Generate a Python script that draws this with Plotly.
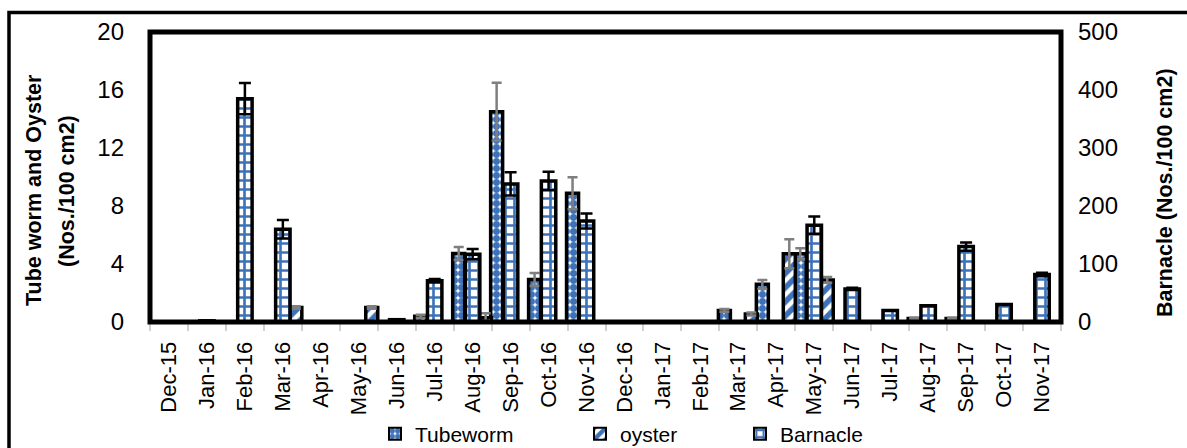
import plotly.graph_objects as go

months = ["Dec-15", "Jan-16", "Feb-16", "Mar-16", "Apr-16", "May-16", "Jun-16", "Jul-16",
          "Aug-16", "Sep-16", "Oct-16", "Nov-16", "Dec-16", "Jan-17", "Feb-17", "Mar-17",
          "Apr-17", "May-17", "Jun-17", "Jul-17", "Aug-17", "Sep-17", "Oct-17", "Nov-17"]

tubeworm = [0, 0, 0, 0, 0, 0, 0, 0.4, 4.72, 14.5, 2.93, 8.88, 0, 0, 0, 0.8, 2.6, 4.7, 0, 0, 0.25, 0.25, 0, 0]
tubeworm_err = [0, 0, 0, 0, 0, 0, 0, 0.1, 0.45, 2.0, 0.45, 1.1, 0, 0, 0, 0.1, 0.3, 0.38, 0, 0, 0.05, 0.05, 0, 0]

oyster = [0, 0, 0, 1.0, 0, 1.0, 0, 0, 0.3, 0, 0, 0, 0, 0, 0, 0.55, 4.7, 2.9, 0, 0, 0, 0, 0, 0]
oyster_err = [0, 0, 0, 0.08, 0, 0.08, 0, 0, 0.3, 0, 0, 0, 0, 0, 0, 0.1, 1.0, 0.2, 0, 0, 0, 0, 0, 0]

barnacle = [0, 2, 385, 160, 0, 0, 4, 71, 117, 238, 243, 174, 0, 0, 0, 0, 0, 167, 57, 20, 28, 130, 30, 82]
barnacle_err = [0, 0, 27, 16, 0, 0, 0, 3, 9, 20, 16, 13, 0, 0, 0, 0, 0, 15, 2, 0, 0, 7, 0, 3]

left_ticks = [0, 4, 8, 12, 16, 20]
right_ticks = [0, 100, 200, 300, 400, 500]

BLUE = "#3E72B8"
GREY = "#7f7f7f"
ARIAL = "Liberation Sans, Arial, sans-serif"
NARROW = "Liberation Sans Narrow, Arial Narrow, Liberation Sans, sans-serif"

fig = go.Figure()

fig.add_trace(go.Bar(
    name="Tubeworm", x=months, y=tubeworm, yaxis="y", legend="legend",
    offset=-0.526, width=0.316,
    marker=dict(color=BLUE, line=dict(color="black", width=3.5),
                pattern=dict(shape=".", fgcolor=BLUE, bgcolor="white", fgopacity=1,
                             size=7, solidity=0.75)),
    error_y=dict(type="data", array=tubeworm_err, visible=True, color=GREY, thickness=2.5, width=5),
))
fig.add_trace(go.Bar(
    name="oyster", x=months, y=oyster, yaxis="y", legend="legend2",
    offset=0.184, width=0.316,
    marker=dict(color=BLUE, line=dict(color="black", width=3.5),
                pattern=dict(shape="/", fgcolor=BLUE, bgcolor="white", fgopacity=1,
                             size=10, solidity=0.55)),
    error_y=dict(type="data", array=oyster_err, visible=True, color=GREY, thickness=2.5, width=5),
))
fig.add_trace(go.Bar(
    name="Barnacle", x=months, y=barnacle, yaxis="y2", legend="legend3",
    offset=-0.19, width=0.38,
    marker=dict(color=BLUE, line=dict(color="black", width=3.5),
                pattern=dict(shape="+", fgcolor=BLUE, bgcolor="white", fgopacity=1,
                             size=9, solidity=0.5)),
    error_y=dict(type="data", array=barnacle_err, visible=True, color="black", thickness=2.5, width=6),
))

W, H = 1187, 448
L, R, T, B = 150, 126, 32, 126
pw, ph = W - L - R, H - T - B


def px_x(p):
    return (p - L) / pw


def px_y(p):
    return (H - B - p) / ph


legend_common = dict(orientation="h", font=dict(family=ARIAL, size=21, color="black"),
                     bgcolor="rgba(0,0,0,0)", yanchor="middle", xanchor="left",
                     xref="container", yref="container", itemsizing="constant")
leg_y = (H - 434) / H

fig.update_layout(
    width=W, height=H,
    margin=dict(l=L, r=R, t=T, b=B, autoexpand=False),
    paper_bgcolor="white", plot_bgcolor="white",
    barmode="overlay",
    showlegend=True,
    legend=dict(x=(395 - 20) / W, y=leg_y, **legend_common),
    legend2=dict(x=(600 - 20) / W, y=leg_y, **legend_common),
    legend3=dict(x=(760 - 20) / W, y=leg_y, **legend_common),
    xaxis=dict(type="category", range=[-0.5, 23.5], tickangle=-90,
               tickfont=dict(family=ARIAL, size=22, color="black"),
               showline=True, linecolor="#bfbfbf", linewidth=2,
               ticks="outside", tickson="boundaries", ticklen=7, tickcolor="#d0d0d0", tickwidth=2,
               showgrid=False, zeroline=False, ticklabelstandoff=9, automargin=False),
    yaxis=dict(range=[0, 20], tickvals=left_ticks, showgrid=False, zeroline=False, showline=False,
               ticks="", tickfont=dict(family=NARROW, size=24, color="black"), ticklabelstandoff=25,
               automargin=False),
    yaxis2=dict(range=[0, 500], tickvals=right_ticks, overlaying="y", side="right",
                showgrid=False, zeroline=False, showline=False, ticks="",
                tickfont=dict(family=NARROW, size=24, color="black"), ticklabelstandoff=16,
                automargin=False),
    shapes=[
        dict(type="rect", xref="paper", yref="paper", x0=0, x1=1, y0=0, y1=1,
             line=dict(color="black", width=5), layer="above"),
        dict(type="rect", xref="paper", yref="paper", x0=px_x(9), x1=px_x(1200),
             y0=px_y(470), y1=px_y(12.5), line=dict(color="black", width=3.5), layer="above"),
    ],
    annotations=[
        dict(text="Tube worm and Oyster", x=px_x(34), y=px_y(190), xref="paper", yref="paper",
             textangle=-90, showarrow=False, xanchor="center", yanchor="middle",
             font=dict(family=ARIAL, size=21.5, color="black", weight="bold")),
        dict(text="(Nos./100 cm2)", x=px_x(67), y=px_y(191), xref="paper", yref="paper",
             textangle=-90, showarrow=False, xanchor="center", yanchor="middle",
             font=dict(family=ARIAL, size=21.5, color="black", weight="bold")),
        dict(text="Barnacle (Nos./100 cm2)", x=px_x(1165), y=px_y(193), xref="paper", yref="paper",
             textangle=-90, showarrow=False, xanchor="center", yanchor="middle",
             font=dict(family=ARIAL, size=21.5, color="black", weight="bold")),
    ],
)

fig.write_html("out.html", config={"displayModeBar": False},
               post_script="document.body.style.margin='0px';")
